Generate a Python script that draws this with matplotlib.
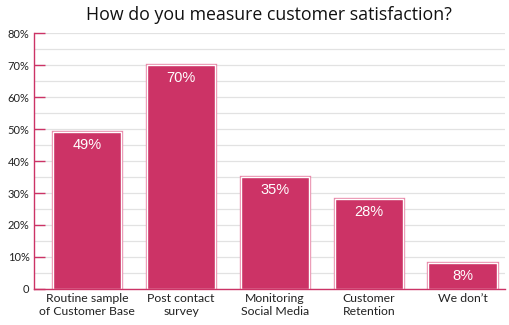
import matplotlib.pyplot as plt
from matplotlib.ticker import MultipleLocator, FuncFormatter

categories = ["Routine sample\nof Customer Base", "Post contact\nsurvey",
              "Monitoring\nSocial Media", "Customer\nRetention", "We don\u2019t"]
values = [49, 70, 35, 28, 8]

fill = "#cc3366"
edge = "#e888a8"

fig = plt.figure(figsize=(5.1, 3.25), dpi=100)
ax = fig.add_axes([0.066, 0.111, 0.924, 0.787])

x = range(len(values))
ax.bar(x, values, width=0.73, color=fill, edgecolor=edge, linewidth=2.4, zorder=3)
ax.bar(x, values, width=0.73, color=fill, linewidth=0, zorder=4)
ax.bar(x, values, width=0.73, facecolor="none", edgecolor="white", linewidth=1.0, zorder=5)

for i, v in enumerate(values):
    ax.annotate("%d%%" % v, (i, v), xytext=(0, -9), textcoords="offset points",
                ha="center", va="center", color="white", fontsize=10.5,
                family="Liberation Sans", zorder=6)

ax.set_xlim(-0.57, 4.45)
ax.set_ylim(0, 80)
ax.yaxis.set_major_locator(MultipleLocator(10))
ax.yaxis.set_minor_locator(MultipleLocator(5))
ax.yaxis.set_major_formatter(FuncFormatter(lambda v, p: "0" if v == 0 else "%d%%" % v))
ax.grid(axis="y", which="both", color="#e2e2e2", linewidth=0.9, zorder=0)

ax.set_xticks(list(x))
ax.set_xticklabels(categories, fontsize=8.8, family="Lato", color="#222222", linespacing=1.22)
ax.tick_params(axis="x", length=0, pad=3)
ax.tick_params(axis="y", which="major", direction="in", length=8, width=1,
               color=fill, labelsize=8, labelcolor="#222222", pad=3)
ax.tick_params(axis="y", which="minor", length=0)
for lab in ax.get_yticklabels():
    lab.set_family("Lato")

for s in ["top", "right"]:
    ax.spines[s].set_visible(False)
ax.spines["left"].set_color(fill)
ax.spines["bottom"].set_color(fill)
ax.spines["left"].set_linewidth(1)
ax.spines["bottom"].set_linewidth(1)
ax.spines["bottom"].set_zorder(7)

fig.text(0.528, 0.955, "How do you measure customer satisfaction?", ha="center", va="center",
         fontsize=12.8, family="Open Sans", color="#111111")

fig.savefig("out.png", dpi=100)
